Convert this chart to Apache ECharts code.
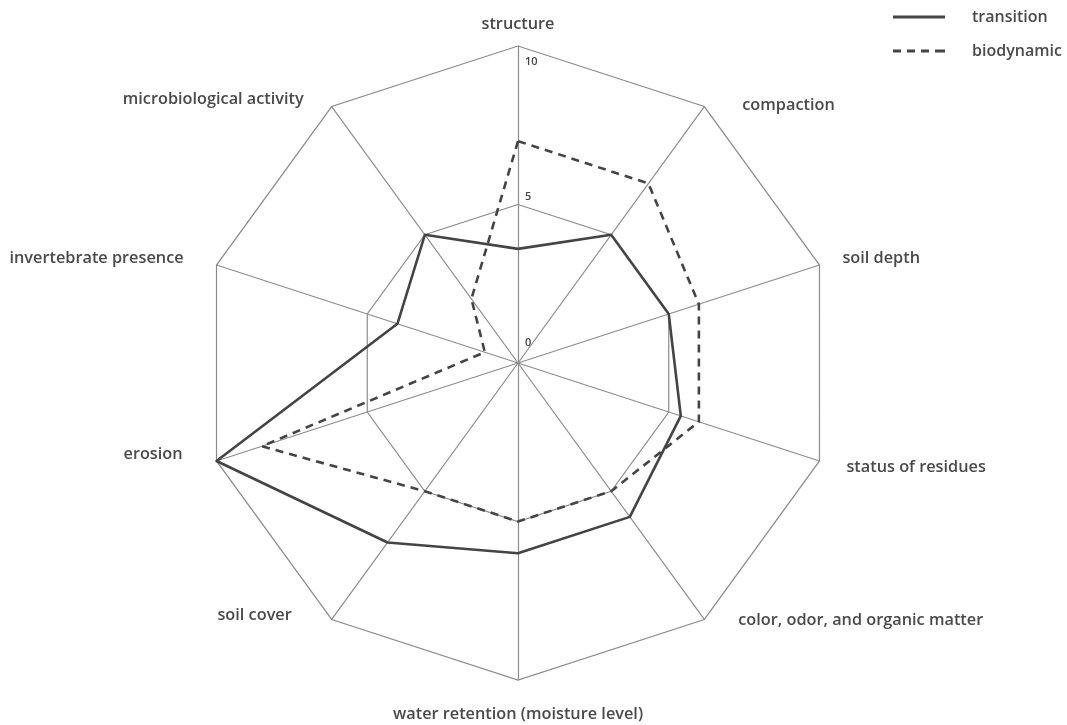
<!DOCTYPE html>
<html>
<head>
<meta charset="utf-8">
<script src="https://cdn.jsdelivr.net/npm/echarts@6/dist/echarts.min.js"></script>
<style>
  html, body { margin: 0; padding: 0; background: #fff; }
  #main { width: 1067px; height: 725px; }
</style>
</head>
<body>
<div id="main"></div>
<script>
// axes in clockwise order, starting at the top
var categories = ['structure', 'compaction', 'soil depth', 'status of residues',
  'color, odor, and organic matter', 'water retention (moisture level)',
  'soil cover', 'erosion', 'invertebrate presence', 'microbiological activity'];
var transition = [3.6, 5, 5, 5.4, 6, 6, 7, 10, 4, 5];
var biodynamic = [7, 7, 6, 6, 5, 5, 5, 8.5, 1.1, 2.5];
var maxValue = 10;
var ticks = [0, 5, 10];

// nudges for the axis names so they sit like the printed figure (same order as categories)
var namePads = [
  [0, 0, 0, 0], [9, 0, 0, 25], [0, 0, 0, 2], [0, 0, 0, 6], [0, 0, 9, 21],
  [4, 0, 0, 0], [0, 27, 14, 0], [0, 13, 5, 0], [0, 12, 0, 0], [3, 15, 0, 0]
];
var nameVAlign = [null, 'top', null, null, 'bottom', null, 'bottom', 'bottom', null, 'top'];
// tick labels: 10 drops inside the ring, 5 and 0 lift above their ticks
var tickPads = { 0: [0, 0, 40, 0], 5: [0, 0, 16, 0], 10: [32, 0, 0, 0] };

// echarts lays radar indicators counter-clockwise, so walk the lists backwards after the first
var order = [0];
for (var i = categories.length - 1; i > 0; i--) order.push(i);
var pick = function (arr) { return order.map(function (k) { return arr[k]; }); };

var indicator = order.map(function (k, idx) {
  var nts = { padding: namePads[k] };
  if (nameVAlign[k]) nts.verticalAlign = nameVAlign[k];
  var ind = { name: categories[k], min: 0, max: maxValue, nameTextStyle: nts };
  if (idx === 0) {
    ind.nameGap = 14;
    ind.axisLabel = {
      show: true, color: '#444', fontSize: 11, fontWeight: 600, margin: -7, align: 'left',
      formatter: function (v) {
        return ticks.indexOf(v) >= 0 ? '{t' + v + '|' + v + '}' : '';
      },
      rich: {
        t0: { padding: tickPads[0], fontSize: 11, color: '#444', fontWeight: 600 },
        t5: { padding: tickPads[5], fontSize: 11, color: '#444', fontWeight: 600 },
        t10: { padding: tickPads[10], fontSize: 11, color: '#444', fontWeight: 600 }
      }
    };
  }
  return ind;
});

var grey = '#8c8c8c';
var ink = '#444';
var chart = echarts.init(document.getElementById('main'));
var option = {
  animation: false,
  textStyle: { fontFamily: 'Open Sans' },
  legend: {
    orient: 'vertical',
    left: 888,
    top: 4,
    itemWidth: 52,
    itemHeight: 3,
    itemGap: 18,
    textStyle: { color: '#4a4a4a', fontSize: 16, fontWeight: 600, padding: [0, 0, 0, 22] },
    data: [
      { name: 'transition', icon: 'path://M0,0H52V3H0Z' },
      { name: 'biodynamic', icon: 'path://M0,0H8V3H0Z M14,0H22V3H14Z M28,0H36V3H28Z M42,0H52V3H42Z' }
    ]
  },
  radar: {
    center: [518, 363],
    radius: 317,
    shape: 'polygon',
    splitNumber: 2,
    startAngle: 90,
    indicator: indicator,
    axisName: { color: '#4a4a4a', fontSize: 16.3, fontWeight: 600, fontFamily: 'Open Sans' },
    nameGap: 22,
    axisLine: { lineStyle: { color: grey, width: 1.2 } },
    splitLine: { lineStyle: { color: grey, width: 1.2 } },
    splitArea: { show: false },
    axisTick: { show: false },
    axisLabel: { show: false }
  },
  series: [{
    type: 'radar',
    symbol: 'none',
    data: [
      { name: 'transition', value: pick(transition),
        lineStyle: { color: ink, width: 2.6, type: 'solid' }, itemStyle: { color: ink } },
      { name: 'biodynamic', value: pick(biodynamic),
        lineStyle: { color: ink, width: 2.6, type: [8, 6] }, itemStyle: { color: ink } }
    ]
  }]
};
chart.setOption(option);
</script>
</body>
</html>
